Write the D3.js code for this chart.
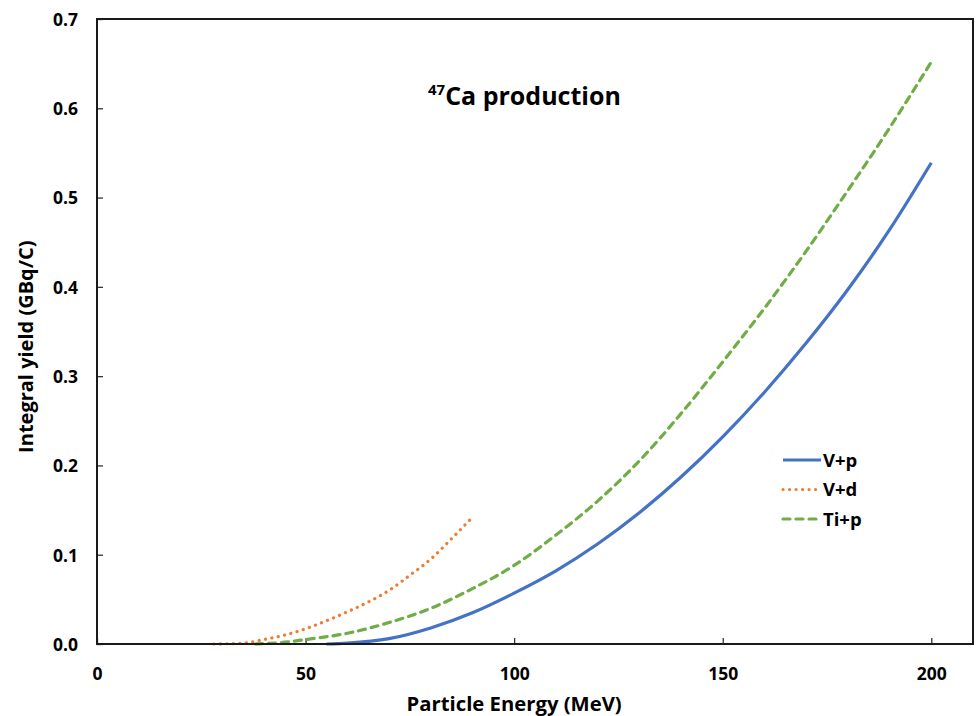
<!DOCTYPE html>
<html>
<head>
<meta charset="utf-8">
<script src="https://cdn.jsdelivr.net/npm/d3@7"></script>
<style>
  html, body { margin: 0; padding: 0; background: #fff; }
  svg { display: block; }
  text { font-family: "Open Sans", "Noto Sans", sans-serif; font-weight: 700; fill: #000; }
</style>
</head>
<body>
<script>
// Integral yield of 47Ca versus incident particle energy
const energyVp = [55, 60, 70, 80, 90, 100, 110, 120, 130, 140, 150, 160, 170, 180, 190, 200];
const yieldVp  = [0, 0.001, 0.006, 0.018, 0.035, 0.057, 0.082, 0.112, 0.147, 0.187, 0.232, 0.282, 0.337, 0.397, 0.464, 0.539];

const energyVd = [28, 35, 40, 45, 50, 55, 60, 65, 70, 75, 80, 85, 90];
const yieldVd  = [0, 0.001, 0.005, 0.010, 0.017, 0.026, 0.036, 0.047, 0.060, 0.077, 0.095, 0.118, 0.142];

const energyTip = [38, 45, 50, 60, 70, 80, 90, 100, 110, 120, 130, 140, 150, 160, 170, 180, 190, 200];
const yieldTip  = [0, 0.002, 0.005, 0.012, 0.024, 0.040, 0.062, 0.088, 0.122, 0.160, 0.205, 0.258, 0.316, 0.376, 0.440, 0.508, 0.578, 0.652];

const xTicks = [0, 50, 100, 150, 200];
const yTicks = [0, 0.1, 0.2, 0.3, 0.4, 0.5, 0.6, 0.7];

const seriesNames = ["V+p", "V+d", "Ti+p"];

const W = 976, H = 716;
const margin = { left: 97, top: 19, right: 3, bottom: 72 };

const svg = d3.select("body").append("svg").attr("width", W).attr("height", H);

const x = d3.scaleLinear().domain([0, 210]).range([margin.left, W - margin.right]);
const y = d3.scaleLinear().domain([0, 0.7]).range([H - margin.bottom, margin.top]);

const series = [
  { name: seriesNames[0], xs: energyVp, ys: yieldVp, color: "#4472C4", dash: null, cap: "butt" },
  { name: seriesNames[1], xs: energyVd, ys: yieldVd, color: "#ED7D31", dash: "0.1 6.4", cap: "round" },
  { name: seriesNames[2], xs: energyTip, ys: yieldTip, color: "#70AD47", dash: "7 6", cap: "round" }
];

// Axes with inward ticks
const xAxis = d3.axisBottom(x).tickValues(xTicks).tickSizeInner(-6).tickSizeOuter(0).tickFormat(d3.format("d"));
const yAxis = d3.axisLeft(y).tickValues(yTicks).tickSizeInner(-6).tickSizeOuter(0).tickFormat(d3.format(".1f"));

const gx = svg.append("g").attr("transform", `translate(0,${y(0)})`).call(xAxis);
gx.select(".domain").remove();
gx.selectAll(".tick line").attr("stroke", "#333").attr("stroke-width", 1.3);
gx.selectAll(".tick text").attr("dy", null).attr("y", 36).style("font-size", "17.5px");

const gy = svg.append("g").attr("transform", `translate(${x(0)},0)`).call(yAxis);
gy.select(".domain").remove();
gy.selectAll(".tick line").attr("stroke", "#333").attr("stroke-width", 1.3);
gy.selectAll(".tick text").attr("x", -19).attr("dy", "0.36em").style("font-size", "17.5px");

// Lines
const line = d3.line().curve(d3.curveMonotoneX);
series.forEach(s => {
  const pts = s.xs.map((e, i) => [x(e), y(s.ys[i])]);
  svg.append("path")
    .attr("d", line(pts))
    .attr("fill", "none")
    .attr("stroke", s.color)
    .attr("stroke-width", 3.2)
    .attr("stroke-linecap", s.cap)
    .attr("stroke-dasharray", s.dash);
});

// Plot frame
svg.append("rect")
  .attr("x", x(0)).attr("y", y(0.7))
  .attr("width", x(210) - x(0)).attr("height", y(0) - y(0.7))
  .attr("fill", "none").attr("stroke", "#1a1a1a").attr("stroke-width", 2);

// Title
const title = svg.append("text").attr("x", 428).attr("y", 105).style("font-size", "25px");
title.append("tspan").text("47").style("font-size", "15px").attr("dy", -10);
title.append("tspan").text("Ca production").attr("dy", 10);

// Axis titles
svg.append("text").attr("x", x(100)).attr("y", 711).attr("text-anchor", "middle")
  .style("font-size", "20.3px").text("Particle Energy (MeV)");
svg.append("text").attr("transform", `translate(33,${y(0.333)}) rotate(-90)`).attr("text-anchor", "middle")
  .style("font-size", "20px").text("Integral yield (GBq/C)");

// Legend
const legend = svg.append("g");
series.forEach((s, i) => {
  const ly = 460 + i * 29.5;
  legend.append("line")
    .attr("x1", 783).attr("x2", 821).attr("y1", ly).attr("y2", ly)
    .attr("stroke", s.color).attr("stroke-width", 3.2)
    .attr("stroke-linecap", s.cap).attr("stroke-dasharray", s.dash);
  legend.append("text").attr("x", 823).attr("y", ly).attr("dy", "0.36em")
    .style("font-size", "18.5px").text(s.name);
});
</script>
</body>
</html>
